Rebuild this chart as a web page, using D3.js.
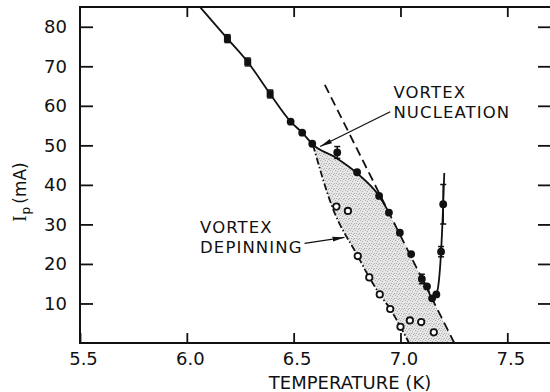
<!DOCTYPE html>
<html>
<head>
<meta charset="utf-8">
<script src="https://cdn.jsdelivr.net/npm/d3@7"></script>
<style>
  html, body { margin: 0; padding: 0; background: #fff; }
  svg { display: block; }
  text { font-family: "DejaVu Sans", sans-serif; fill: #111; }
</style>
</head>
<body>
<svg id="chart" width="550" height="392"></svg>
<script>
// Axis ticks
const tempTicks = [5.5, 6.0, 6.5, 7.0, 7.5];
const currentTicks = [10, 20, 30, 40, 50, 60, 70, 80];

// Filled points: critical current I_p (mA) vs temperature (K), with error bars
const filledT   = [6.19, 6.285, 6.39, 6.486, 6.54, 6.587, 6.704, 6.797, 6.90, 6.946, 6.997, 7.05, 7.10, 7.124, 7.148, 7.168, 7.19, 7.20];
const filledI   = [77.0, 71.1, 63.0, 56.0, 53.2, 50.4, 48.2, 43.2, 37.2, 33.0, 27.9, 22.5, 16.2, 14.3, 11.3, 12.3, 23.1, 35.1];
const filledErr = [1.0, 1.0, 1.0, 0, 0, 0, 1.5, 0, 0, 0, 0, 0, 1.2, 0, 0, 0, 1.3, 5.0];

// Open points: depinning current
const openT = [6.70, 6.754, 6.80, 6.854, 6.903, 6.952, 7.00, 7.044, 7.097, 7.156];
const openI = [34.5, 33.4, 22.0, 16.6, 12.3, 8.6, 4.1, 5.7, 5.3, 2.7];

// Solid guide through the nucleation branch
const nucleationCurveT = [6.062, 6.19, 6.285, 6.39, 6.486, 6.54, 6.59, 6.70, 6.80, 6.90, 6.946];
const nucleationCurveI = [85.0, 77.0, 71.1, 63.0, 56.0, 53.2, 50.2, 46.8, 42.8, 37.2, 33.0];

// Solid guide through the minimum near Tc
const minimumCurveT = [7.10, 7.124, 7.148, 7.168, 7.19, 7.20, 7.205];
const minimumCurveI = [16.2, 14.3, 11.3, 12.3, 23.1, 35.1, 43.0];

// Dash-dot guide along the depinning points
const depinningCurveT = [6.59, 6.68, 6.80, 6.854, 6.903, 6.952, 7.00, 7.04];
const depinningCurveI = [50.2, 34.5, 22.0, 16.6, 12.3, 8.6, 4.1, 0];

// Dashed straight line
const dashedLineT = [6.646, 7.252];
const dashedLineI = [65.3, 0];

// Annotations
const nucleationLabel = ["VORTEX", "NUCLEATION"];
const nucleationLabelT = 6.967, nucleationLabelI = 61.9;
const nucleationArrowT = [6.952, 6.624], nucleationArrowI = [58.5, 49.7];
const depinningLabel = ["VORTEX", "DEPINNING"];
const depinningLabelT = 6.062, depinningLabelI = 27.8;
const depinningArrowT = [6.551, 6.738], depinningArrowI = [25.2, 26.7];

const svg = d3.select("#chart");
const plotLeft = 80, plotRight = 552, plotTop = 7, plotBottom = 343;

const x = d3.scaleLinear().domain([5.5, 7.5]).range([plotLeft, 507.3]);
const y = d3.scaleLinear().domain([0, 85]).range([plotBottom, plotTop]);

const pts = (T, I) => T.map((t, i) => [t, I[i]]);

// Stipple fill for the band between depinning and nucleation
const defs = svg.append("defs");
const pat = defs.append("pattern").attr("id", "stipple")
  .attr("patternUnits", "userSpaceOnUse").attr("width", 5).attr("height", 5);
pat.append("rect").attr("width", 5).attr("height", 5).attr("fill", "#e6e6e6");
[[0,0],[2,1],[4,3],[1,3],[3,4]].forEach(([a, b]) =>
  pat.append("rect").attr("x", a).attr("y", b).attr("width", 1).attr("height", 1).attr("fill", "#b0b0b0"));

defs.append("marker").attr("id", "arrow")
  .attr("viewBox", "0 0 12 6").attr("refX", 12).attr("refY", 3)
  .attr("markerWidth", 12).attr("markerHeight", 6)
  .attr("markerUnits", "userSpaceOnUse").attr("orient", "auto")
  .append("path").attr("d", "M0,0.6 L12,3 L0,5.4 Z").attr("fill", "#111");

const line = d3.line().x(d => x(d[0])).y(d => y(d[1])).curve(d3.curveMonotoneX);

// Shaded band: dash-dot on the left, nucleation curve then dashed line on the right
const nucTop = pts(nucleationCurveT, nucleationCurveI).filter(d => d[0] >= 6.59);
const ddRev = pts(depinningCurveT, depinningCurveI).slice().reverse();
const bandPath = line(nucTop) +
  "L" + x(dashedLineT[1]) + "," + y(dashedLineI[1]) +
  line(ddRev).replace(/^M/, "L") + "Z";
svg.append("path").attr("d", bandPath).attr("fill", "url(#stipple)");

// Frame
svg.append("path")
  .attr("d", `M${plotRight},${plotTop} L${plotLeft},${plotTop} L${plotLeft},${plotBottom} L${plotRight},${plotBottom}`)
  .attr("fill", "none").attr("stroke", "#111").attr("stroke-width", 2);

// Axes
const fmt = d3.format(".1f");
const xAxis = svg.append("g").attr("transform", `translate(0,${plotBottom})`)
  .call(d3.axisBottom(x).tickValues(tempTicks).tickSize(-10).tickPadding(9).tickFormat(fmt));
xAxis.selectAll("text").attr("dx", 3);
svg.append("g").attr("transform", `translate(0,${plotTop})`)
  .call(d3.axisTop(x).tickValues(tempTicks.slice(1)).tickSize(-10).tickFormat(""));
svg.append("g").attr("transform", `translate(${plotLeft},0)`)
  .call(d3.axisLeft(y).tickValues(currentTicks).tickSize(-13).tickPadding(13));
svg.append("g").attr("transform", `translate(${plotRight},0)`)
  .call(d3.axisRight(y).tickValues(currentTicks).tickSize(-14).tickFormat(""));
svg.selectAll(".domain").remove();
svg.selectAll(".tick line").attr("stroke", "#111").attr("stroke-width", 1.8);
svg.selectAll(".tick text").attr("font-size", 18).attr("font-family", "DejaVu Sans").attr("fill", "#111");

// Axis titles
svg.append("text").attr("x", 350).attr("y", 389).attr("text-anchor", "middle")
  .attr("font-size", 18).text("TEMPERATURE (K)");
const yt = svg.append("text").attr("transform", "translate(26,192) rotate(-90)")
  .attr("text-anchor", "middle").attr("font-size", 17);
yt.append("tspan").attr("font-family", "Liberation Serif").attr("font-size", 19).text("I");
yt.append("tspan").attr("font-size", 12).attr("dy", 4).attr("dx", 1).text("p");
yt.append("tspan").attr("dy", -4).attr("dx", 3).text("(mA)");

// Guide lines
svg.append("path").attr("d", line(pts(dashedLineT, dashedLineI)))
  .attr("fill", "none").attr("stroke", "#111").attr("stroke-width", 1.8)
  .attr("stroke-dasharray", "9,5");
svg.append("path").attr("d", line(pts(depinningCurveT, depinningCurveI)))
  .attr("fill", "none").attr("stroke", "#111").attr("stroke-width", 1.8)
  .attr("stroke-dasharray", "7,2.5,1.5,2.5");
svg.append("path").attr("d", line(pts(nucleationCurveT, nucleationCurveI)))
  .attr("fill", "none").attr("stroke", "#111").attr("stroke-width", 1.8);
svg.append("path").attr("d", line(pts(minimumCurveT, minimumCurveI)))
  .attr("fill", "none").attr("stroke", "#111").attr("stroke-width", 1.8);

// Error bars
const filled = filledT.map((t, i) => ({ t, I: filledI[i], e: filledErr[i] }));
const eb = svg.append("g").attr("stroke", "#111").attr("stroke-width", 1.5);
filled.filter(d => d.e > 0).forEach(d => {
  const cx = x(d.t), y0 = y(d.I - d.e), y1 = y(d.I + d.e);
  eb.append("line").attr("x1", cx).attr("x2", cx).attr("y1", y0).attr("y2", y1);
  eb.append("line").attr("x1", cx - 3).attr("x2", cx + 3).attr("y1", y0).attr("y2", y0);
  eb.append("line").attr("x1", cx - 3).attr("x2", cx + 3).attr("y1", y1).attr("y2", y1);
});

// Filled markers (squares on the low-temperature end, dots elsewhere)
svg.append("g").selectAll("rect").data(filled.filter(d => d.t < 6.45)).join("rect")
  .attr("x", d => x(d.t) - 3.5).attr("y", d => y(d.I) - 3.5)
  .attr("width", 7).attr("height", 7).attr("fill", "#111");
svg.append("g").selectAll("circle").data(filled.filter(d => d.t >= 6.45)).join("circle")
  .attr("cx", d => x(d.t)).attr("cy", d => y(d.I)).attr("r", 3.9).attr("fill", "#111");

// Open markers
svg.append("g").selectAll("circle").data(openT.map((t, i) => [t, openI[i]])).join("circle")
  .attr("cx", d => x(d[0])).attr("cy", d => y(d[1])).attr("r", 3.2)
  .attr("fill", "#fff").attr("stroke", "#111").attr("stroke-width", 1.8);

// Annotations: two-line labels
function twoLineLabel(lines, T, I) {
  lines.forEach((s, i) =>
    svg.append("text").attr("x", x(T)).attr("y", y(I) + i * 19.6)
      .attr("font-size", 16.5).attr("letter-spacing", 1.1).text(s));
}
twoLineLabel(nucleationLabel, nucleationLabelT, nucleationLabelI);
twoLineLabel(depinningLabel, depinningLabelT, depinningLabelI);
[[nucleationArrowT, nucleationArrowI], [depinningArrowT, depinningArrowI]].forEach(([T, I]) =>
  svg.append("line")
    .attr("x1", x(T[0])).attr("y1", y(I[0])).attr("x2", x(T[1])).attr("y2", y(I[1]))
    .attr("stroke", "#111").attr("stroke-width", 1.3).attr("marker-end", "url(#arrow)"));
</script>
</body>
</html>
